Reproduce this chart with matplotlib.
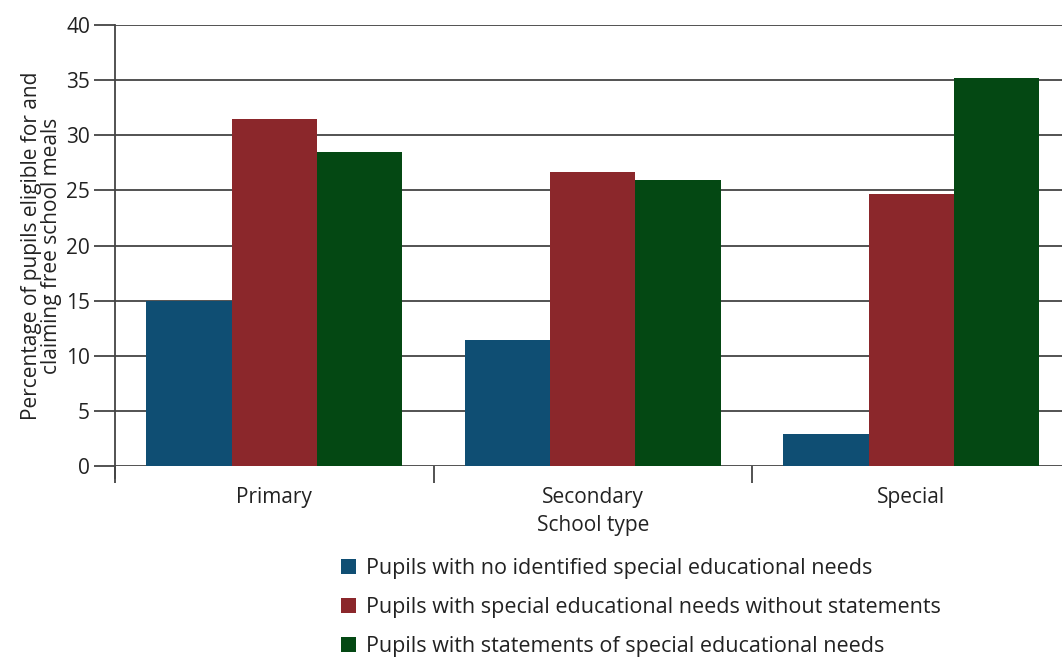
import numpy as np
import matplotlib.pyplot as plt
from matplotlib.patches import Patch

plt.rcParams['font.family'] = ['Open Sans', 'DejaVu Sans']

school_types = ['Primary', 'Secondary', 'Special']
no_sen = [15.0, 11.4, 2.9]
sen_without_statements = [31.5, 26.7, 24.7]
sen_with_statements = [28.5, 25.9, 35.2]

series_labels = [
    'Pupils with no identified special educational needs',
    'Pupils with special educational needs without statements',
    'Pupils with statements of special educational needs',
]
colors = ['#0f4e73', '#8b272b', '#044813']

fig = plt.figure(figsize=(10.62, 6.6), dpi=100)
ax = fig.add_axes([0.1083, 0.2939, 0.8997, 0.6682])

x = np.arange(len(school_types))
width = 0.268
for i, (vals, col) in enumerate(zip([no_sen, sen_without_statements, sen_with_statements], colors)):
    ax.bar(x + (i - 1) * width, vals, width, color=col, zorder=3)

ax.set_xlim(-0.5, 2.5)
ax.set_ylim(0, 40)
ax.set_yticks(np.arange(0, 41, 5))
ax.yaxis.grid(True, color='#444444', linewidth=1.3, zorder=0)
ax.set_axisbelow(True)

for s in ['top', 'right', 'bottom']:
    ax.spines[s].set_visible(False)
ax.spines['left'].set_color('#444444')
ax.spines['left'].set_linewidth(1.3)
ax.spines['left'].set_bounds(-1.1, 40)

ax.tick_params(axis='y', direction='out', length=15, width=1.3, color='#444444',
               labelsize=15, labelcolor='#222222', pad=3)

# category labels in the middle, tick marks at the group boundaries
ax.set_xticks(x)
ax.set_xticklabels(school_types, fontsize=15, color='#222222')
ax.tick_params(axis='x', which='major', length=0, pad=15)
ax.set_xticks([-0.5, 0.5, 1.5, 2.5], minor=True)
ax.tick_params(axis='x', which='minor', direction='out', length=12, width=1.3, color='#444444')

ax.set_xlabel('School type', fontsize=15, color='#222222', labelpad=5)
ax.set_ylabel('Percentage of pupils eligible for and\nclaiming free school meals',
              fontsize=15, color='#222222', labelpad=3, linespacing=0.95)

handles = [Patch(facecolor=c, edgecolor='none') for c in colors]
fig.legend(handles, series_labels, loc='upper left', bbox_to_anchor=(0.3126, 0.168),
           frameon=False, fontsize=15.5, handlelength=0.7, handleheight=0.7,
           handletextpad=0.5, labelspacing=0.85, borderaxespad=0, labelcolor='#222222')

fig.savefig('out.png', dpi=100)
